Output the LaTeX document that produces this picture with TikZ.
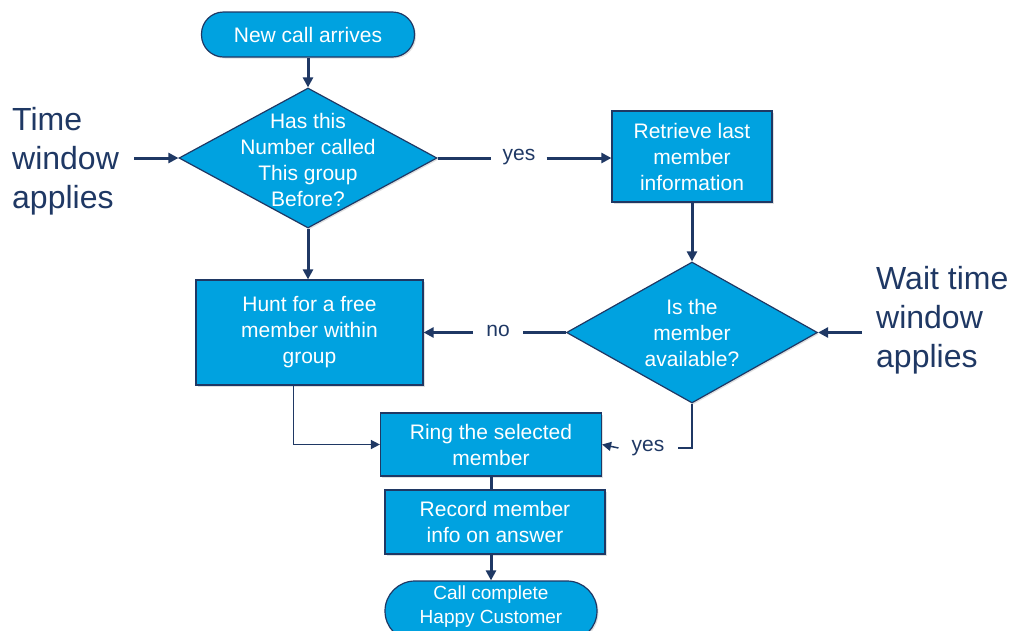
\documentclass[tikz,border=0pt]{standalone}
\usepackage{fontspec}
\setmainfont{Liberation Sans}
\usetikzlibrary{shapes.geometric,arrows.meta,shadows}
\definecolor{fillblue}{HTML}{00A2E0}
\definecolor{navy}{HTML}{1F3864}
\begin{document}
\begin{tikzpicture}[x=1pt,y=-1pt,
 base/.style={draw=navy, line width=1.2pt, fill=fillblue, text=white, align=center,
   font=\fontsize{21}{26}\selectfont,
   drop shadow={opacity=0.25,shadow xshift=1.5pt,shadow yshift=-1.5pt}},
 proc/.style={base, rectangle, inner sep=0pt},
 term/.style={base, rectangle, inner sep=0pt},
 dec/.style={base, diamond, inner sep=0pt},
 intext/.style={text=white, align=center, font=\fontsize{21}{26}\selectfont},
 lbl/.style={text=navy, font=\fontsize{21}{26}\selectfont, inner ysep=2pt},
 side/.style={text=navy, align=left, font=\fontsize{32}{39}\selectfont, inner sep=0pt},
 arr/.style={draw=navy, line width=3pt, -{Triangle[length=10pt,width=10pt]}},
 plain/.style={draw=navy, line width=3pt},
 thinline/.style={draw=navy, line width=1.5pt},
 thinarr/.style={draw=navy, line width=1.5pt, -{Triangle[length=9pt,width=9pt]}}
]
\useasboundingbox (0,0) rectangle (1013,630);

% nodes
\node[term, rounded corners=22pt, minimum width=213, minimum height=45] (start) at (308,34.5) {New call arrives};
\node[dec, minimum width=258, minimum height=140] (d1) at (308,158) {};
\node[intext] (d1t) at (308,160) {Has this\\Number called\\This group\\Before?};
\node[proc, minimum width=160, minimum height=91] (retr) at (692,156.5) {Retrieve last\\member\\information};
\node[dec, minimum width=251, minimum height=141] (d2) at (692,332.5) {};
\node[intext] (d2t) at (692,333) {Is the\\member\\available?};
\node[proc, minimum width=227, minimum height=105] (hunt) at (309.5,332.5) {Hunt for a free\\member within\\group};
\node[proc, minimum width=221, minimum height=63] (ring) at (491,444.5) {Ring the selected\\member};
\node[proc, minimum width=220, minimum height=64] (rec) at (495,522) {Record member\\info on answer};
\node[term, rounded corners=30pt, minimum width=212, minimum height=60] (endt) at (491,611) {};
\node[intext, font=\fontsize{19}{24}\selectfont] (endtt) at (491,607) {Call complete\\Happy Customer};

\node[side, anchor=west] (tw) at (12,161) {Time\\window\\applies};
\node[side, anchor=west] (ww) at (876,320) {Wait time\\window\\applies};

\node[lbl, inner xsep=11pt] (yes1) at (519,157) {yes};
\node[lbl, inner xsep=13pt] (no1) at (498,331) {no};
\node[lbl, inner xsep=13pt] (yes2) at (648,448) {yes};

% connectors
\draw[arr] (start.south) -- (d1.north);
\draw[plain] (d1.east) -- (d1.east -| yes1.west);
\draw[arr] (yes1.east |- d1.east) -- (d1.east -| retr.west);
\draw[arr] (retr.south) -- (d2.north);
\draw[arr] (d1.south) -- (d1.south |- hunt.north);
\draw[plain] (d2.west) -- (d2.west -| no1.east);
\draw[arr] (no1.west |- d2.west) -- (d2.west -| hunt.east);
\draw[arr] ([xshift=-14pt]ww.west |- d2.east) -- (d2.east);
\draw[arr] ([xshift=15pt]tw.east |- d1.west) -- (d1.west);
\draw[thinarr] ([xshift=-16pt]hunt.south) |- (ring.west);
\draw[thinline] (d2.south) |- (yes2.east);
\draw[thinarr] (yes2.west) -- (ring.east);
\draw[plain] (ring.south) -- (ring.south |- rec.north);
\draw[arr] (rec.south -| endt.north) -- (endt.north);
\end{tikzpicture}
\end{document}
